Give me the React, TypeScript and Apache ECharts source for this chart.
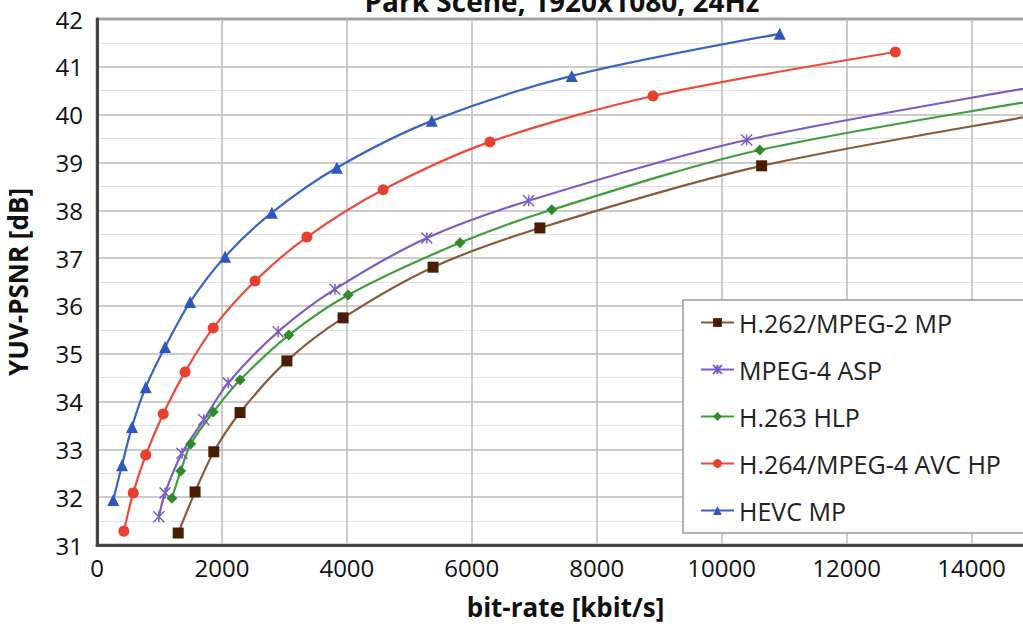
import React, { useEffect, useRef } from "react";
import * as echarts from "echarts";

const seriesNames = ["H.262/MPEG-2 MP", "MPEG-4 ASP", "H.263 HLP", "H.264/MPEG-4 AVC HP", "HEVC MP"];

const h262Rate = [1300, 1570, 1870, 2290, 3040, 3940, 5380, 7090, 10640, 16000];
const h262Psnr = [31.25, 32.11, 32.95, 33.77, 34.85, 35.75, 36.81, 37.63, 38.93, 40.2];

const mpeg4Rate = [990, 1090, 1360, 1710, 2100, 2900, 3810, 5280, 6910, 10400, 16000];
const mpeg4Psnr = [31.59, 32.09, 32.92, 33.62, 34.39, 35.46, 36.35, 37.42, 38.2, 39.47, 40.8];

const h263Rate = [1200, 1340, 1500, 1860, 2290, 3070, 4020, 5810, 7280, 10610, 16000];
const h263Psnr = [31.98, 32.55, 33.11, 33.78, 34.45, 35.39, 36.23, 37.32, 38.01, 39.26, 40.5];

const h264Rate = [430, 580, 780, 1060, 1410, 1860, 2530, 3360, 4580, 6290, 8900, 12780];
const h264Psnr = [31.29, 32.09, 32.88, 33.74, 34.62, 35.54, 36.52, 37.44, 38.43, 39.43, 40.39, 41.31];

const hevcRate = [260, 400, 560, 780, 1090, 1490, 2050, 2800, 3840, 5360, 7600, 10930];
const hevcPsnr = [31.94, 32.67, 33.47, 34.3, 35.14, 36.08, 37.03, 37.95, 38.89, 39.87, 40.81, 41.69];

const pair = (xs: number[], ys: number[]) => xs.map((x, i) => [x, ys[i]]);

const FONT = "'Open Sans', sans-serif";

export default function App() {
  const ref = useRef<HTMLDivElement>(null);
  useEffect(() => {
    const chart = echarts.init(ref.current!, undefined, { renderer: "svg" });
    const mk = (
      name: string,
      data: number[][],
      lineColor: string,
      markColor: string,
      symbol: string,
      symbolSize: number,
      extra: any = {}
    ) => ({
      name,
      type: "line",
      data,
      smooth: 0.3,
      symbol,
      symbolSize,
      showAllSymbol: true,
      clip: true,
      lineStyle: { color: lineColor, width: 2.2 },
      itemStyle: { color: markColor, ...extra },
    });
    chart.setOption({
      animation: false,
      textStyle: { fontFamily: FONT },
      graphic: [
        {
          type: "text",
          x: 562,
          y: 1,
          style: {
            text: "Park Scene, 1920x1080, 24Hz",
            font: `bold 28px ${FONT}`,
            fill: "#111",
            align: "center",
            verticalAlign: "middle",
          },
        },
      ],
      grid: {
        left: 97,
        top: 19,
        right: -11,
        bottom: 81,
        show: true,
        borderColor: "#555",
        borderWidth: 2.5,
        containLabel: false,
        outerBoundsMode: "none",
      },
      legend: {
        orient: "vertical",
        left: 683,
        top: 300,
        backgroundColor: "#fff",
        borderColor: "#999",
        borderWidth: 1.5,
        padding: [10, 60, 10, 17],
        itemGap: 22,
        itemWidth: 33,
        itemHeight: 11,
        textStyle: { fontSize: 25, color: "#222", fontFamily: FONT },
        data: seriesNames,
      },
      xAxis: {
        type: "value",
        min: 0,
        max: 15000,
        interval: 2000,
        name: "bit-rate [kbit/s]",
        nameLocation: "middle",
        nameGap: 49,
        nameTextStyle: { fontSize: 26, fontWeight: "bold", color: "#111" },
        axisLine: { show: true, lineStyle: { color: "#444", width: 3 } },
        axisTick: { show: false },
        axisLabel: { fontSize: 24, color: "#111", margin: 10, formatter: (v: number) => String(v) },
        splitLine: { show: true, lineStyle: { color: "#bbb", width: 1.5 } },
      },
      yAxis: {
        type: "value",
        min: 31,
        max: 42,
        interval: 1,
        name: "YUV-PSNR [dB]",
        nameLocation: "middle",
        nameGap: 66,
        nameTextStyle: { fontSize: 26, fontWeight: "bold", color: "#111" },
        axisLine: { show: true, lineStyle: { color: "#444", width: 3 } },
        axisTick: { show: false },
        axisLabel: { fontSize: 24, color: "#111", margin: 14 },
        splitLine: { show: true, lineStyle: { color: "#bbb", width: 1.5 } },
        minorTick: { show: false, splitNumber: 2 },
        minorSplitLine: { show: true, lineStyle: { color: "#e4e4e4", width: 1.2 } },
      },
      series: [
        mk(seriesNames[0], pair(h262Rate, h262Psnr), "#8a5a3a", "#4a1d05", "rect", 11),
        mk(
          seriesNames[1],
          pair(mpeg4Rate, mpeg4Psnr),
          "#7a5cc8",
          "#7a5cc8",
          "path://M0,0L10,10M10,0L0,10M5,0L5,10",
          11,
          { borderColor: "#7a5cc8", borderWidth: 1.5 }
        ),
        mk(seriesNames[2], pair(h263Rate, h263Psnr), "#3f9e3c", "#2f8a2c", "diamond", 11),
        mk(seriesNames[3], pair(h264Rate, h264Psnr), "#ec4a3a", "#e8402f", "circle", 11),
        mk(seriesNames[4], pair(hevcRate, hevcPsnr), "#3a64c4", "#2e58be", "triangle", 12),
      ],
    });
    return () => chart.dispose();
  }, []);
  return (
    <div
      ref={ref}
      style={{ position: "fixed", left: 0, top: 0, width: 1023, height: 626, background: "#fff" }}
    />
  );
}
